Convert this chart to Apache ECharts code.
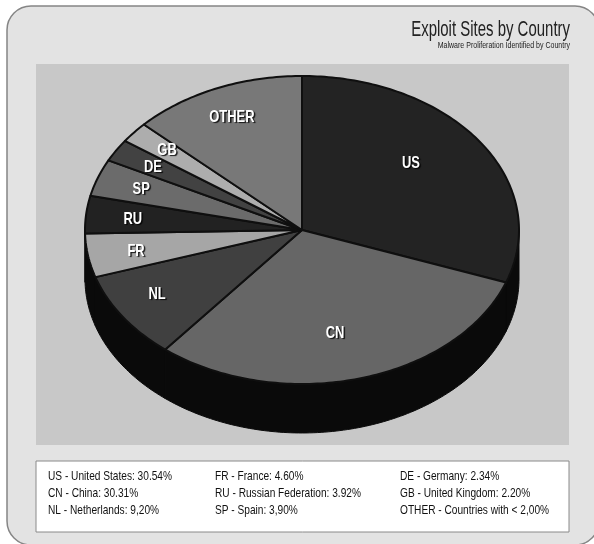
<!DOCTYPE html>
<html>
<head>
<meta charset="utf-8">
<style>html,body{margin:0;padding:0;background:#fff}#chart{width:594px;height:544px}</style>
<script src="https://cdn.jsdelivr.net/npm/echarts@6/dist/echarts.min.js"></script>
</head>
<body>
<div id="chart"></div>
<script>
// Share of exploit sites per country, clockwise from twelve o'clock
const codes = ['US', 'CN', 'NL', 'FR', 'RU', 'SP', 'DE', 'GB', 'OTHER'];
const shares = [30.54, 30.31, 9.20, 4.60, 3.92, 3.90, 2.34, 2.20, 12.99];
const sliceColors = ['#232323', '#666666', '#404040', '#a6a6a6', '#222222', '#6b6b6b', '#424242', '#adadad', '#787878'];

// Where each slice's label sits on the unit-disc axes
const labelAnchors = [[0.502, 0.435], [0.152, -0.669], [-0.668, -0.416], [-0.765, -0.136], [-0.78, 0.071],
  [-0.741, 0.266], [-0.687, 0.409], [-0.622, 0.519], [-0.323, 0.734]];

const keyColumns = [
  ['US - United States: 30.54%', 'CN - China: 30.31%', 'NL - Netherlands: 9,20%'],
  ['FR - France: 4.60%', 'RU - Russian Federation: 3.92%', 'SP - Spain: 3,90%'],
  ['DE - Germany: 2.34%', 'GB - United Kingdom: 2.20%', 'OTHER - Countries with < 2,00%']
];
const keyColumnX = [48, 215, 400];
const keyRowY = [476, 493, 510];

// Condensed look: Liberation Sans squeezed horizontally
const FACE = '"Liberation Sans", Arial, sans-serif';
const RIM_DEPTH = 0.318; // height of the pie's wall, in y-axis units
const total = shares.reduce((a, b) => a + b, 0);

function rim(api, deg, drop) {
  const t = deg * Math.PI / 180;
  return api.coord([Math.sin(t), Math.cos(t) - drop]);
}

function renderSlice(params, api) {
  const i = params.dataIndex;
  let before = 0;
  for (let k = 0; k < i; k++) before += shares[k];
  const a0 = before / total * 360;
  const a1 = (before + api.value(0)) / total * 360;
  const children = [];

  // Wall: only the arc on the viewer's side of the disc is visible
  const w0 = Math.max(a0, 90), w1 = Math.min(a1, 270);
  if (w1 > w0) {
    const upper = [], lower = [];
    for (let d = w0; d < w1; d += 1) { upper.push(rim(api, d, 0)); lower.push(rim(api, d, RIM_DEPTH)); }
    upper.push(rim(api, w1, 0)); lower.push(rim(api, w1, RIM_DEPTH));
    children.push({
      type: 'polygon', z2: 1,
      shape: { points: upper.concat(lower.reverse()) },
      style: { fill: '#0a0a0a', stroke: '#0a0a0a', lineWidth: 1 }
    });
  }

  // Top face
  const top = [api.coord([0, 0])];
  for (let d = a0; d < a1; d += 1) top.push(rim(api, d, 0));
  top.push(rim(api, a1, 0));
  children.push({
    type: 'polygon', z2: 2,
    shape: { points: top },
    style: { fill: sliceColors[i], stroke: '#0f0f0f', lineWidth: 2, lineJoin: 'round' }
  });

  // Slice code
  const at = api.coord(labelAnchors[i]);
  children.push({
    type: 'text', z2: 20, x: at[0], y: at[1], scaleX: 0.76,
    style: {
      text: codes[i], fill: '#ffffff', align: 'center', verticalAlign: 'middle',
      font: 'bold 17px ' + FACE,
      textShadowColor: 'rgba(0,0,0,0.85)', textShadowBlur: 1, textShadowOffsetX: 1.5, textShadowOffsetY: 1.5
    }
  });
  return { type: 'group', children };
}

const keyTexts = [];
keyColumns.forEach((col, c) => col.forEach((line, r) => keyTexts.push({
  type: 'text', x: keyColumnX[c], y: keyRowY[r], z: 5, scaleX: 0.78,
  style: { text: line, fill: '#111111', font: '13px ' + FACE, align: 'left', verticalAlign: 'middle' }
})));

const chart = echarts.init(document.getElementById('chart'), null, { renderer: 'canvas' });
chart.setOption({
  animation: false,
  backgroundColor: '#ffffff',
  grid: { left: 85, right: 75, top: 76, bottom: 160 },
  xAxis: { type: 'value', min: -1, max: 1, show: false },
  yAxis: { type: 'value', min: -1, max: 1, show: false },
  graphic: [
    { type: 'rect', z: -10, shape: { x: 7, y: 6, width: 592, height: 539, r: 24 },
      style: { fill: '#e3e3e3', stroke: '#858585', lineWidth: 1.5 } },
    { type: 'rect', z: -9, shape: { x: 36, y: 64, width: 533, height: 381 }, style: { fill: '#c8c8c8' } },
    { type: 'rect', z: -9, shape: { x: 36, y: 461, width: 533, height: 71 },
      style: { fill: '#ffffff', stroke: '#8a8a8a', lineWidth: 1 } },
    { type: 'text', x: 570, y: 30, z: 5, scaleX: 0.68,
      style: { text: 'Exploit Sites by Country', fill: '#222222', font: '22px ' + FACE, align: 'right', verticalAlign: 'middle' } },
    { type: 'text', x: 570, y: 46, z: 5, scaleX: 0.78,
      style: { text: 'Malware Proliferation Identified by Country', fill: '#222222', font: '9px ' + FACE, align: 'right', verticalAlign: 'middle' } }
  ].concat(keyTexts),
  series: [{
    type: 'custom',
    coordinateSystem: 'cartesian2d',
    clip: false,
    silent: true,
    encode: { x: -1, y: -1 },
    renderItem: renderSlice,
    data: shares.map(v => [v])
  }]
});
</script>
</body>
</html>
